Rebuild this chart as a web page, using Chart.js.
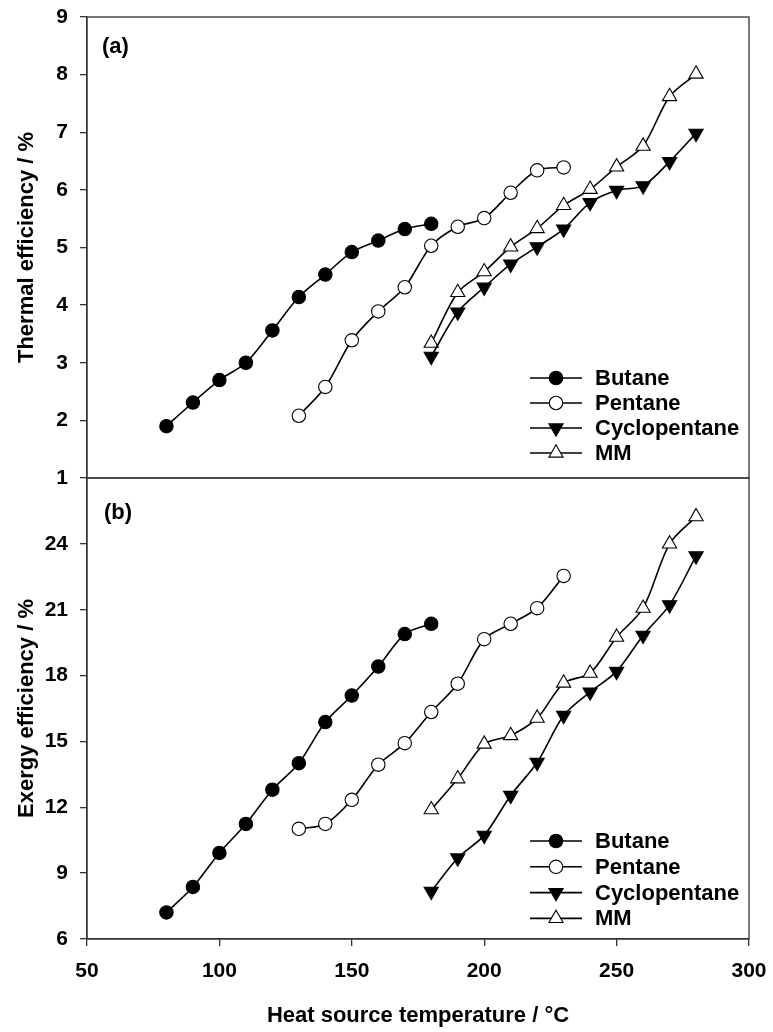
<!DOCTYPE html>
<html><head><meta charset="utf-8">
<script src="https://cdn.jsdelivr.net/npm/chart.js@4.4.1/dist/chart.umd.min.js"></script>
<style>
html,body{margin:0;padding:0;background:#fff;}
body{width:773px;height:1032px;position:relative;overflow:hidden;}
#c1{position:absolute;left:0;top:0;}
#c2{position:absolute;left:0;top:460px;}
</style></head><body>
<canvas id="c1" width="773" height="500"></canvas>
<canvas id="c2" width="773" height="572"></canvas>
<script>
// ---- data ----
const seriesNames = ['Butane', 'Pentane', 'Cyclopentane', 'MM'];
const butaneTemp = [80, 90, 100, 110, 120, 130, 140, 150, 160, 170, 180];
const pentaneTemp = [130, 140, 150, 160, 170, 180, 190, 200, 210, 220, 230];
const cycloTemp = [180, 190, 200, 210, 220, 230, 240, 250, 260, 270, 280];
const mmTemp = [180, 190, 200, 210, 220, 230, 240, 250, 260, 270, 280];

const butaneThermal = [1.90, 2.31, 2.70, 3.00, 3.56, 4.14, 4.53, 4.92, 5.12, 5.32, 5.41];
const pentaneThermal = [2.08, 2.58, 3.39, 3.89, 4.31, 5.03, 5.36, 5.51, 5.95, 6.34, 6.39];
const cycloThermal = [3.11, 3.88, 4.31, 4.71, 5.01, 5.32, 5.78, 5.99, 6.07, 6.49, 6.98];
const mmThermal = [3.34, 4.22, 4.58, 5.01, 5.33, 5.73, 6.01, 6.40, 6.76, 7.62, 8.01];

const butaneExergy = [7.21, 8.37, 9.92, 11.24, 12.80, 14.01, 15.88, 17.09, 18.41, 19.89, 20.36];
const pentaneExergy = [11.02, 11.24, 12.34, 13.94, 14.92, 16.34, 17.63, 19.66, 20.36, 21.07, 22.54];
const cycloExergy = [8.17, 9.69, 10.72, 12.54, 14.04, 16.18, 17.25, 18.19, 19.83, 21.22, 23.45];
const mmExergy = [11.89, 13.30, 14.88, 15.27, 16.06, 17.66, 18.11, 19.75, 21.07, 24.00, 25.24];

const xTicks = [50, 100, 150, 200, 250, 300];
const thermalTicks = [1, 2, 3, 4, 5, 6, 7, 8, 9];
const exergyTicks = [6, 9, 12, 15, 18, 21, 24];

const xTitle = 'Heat source temperature / °C';
const thermalTitle = 'Thermal efficiency / %';
const exergyTitle = 'Exergy efficiency / %';

// ---- styles ----
const FONT = "'Liberation Sans', Arial, sans-serif";
const AXIS = '#333';
const styles = [
  {pointStyle: 'circle', radius: 6.7, fill: '#000', rotation: 0},
  {pointStyle: 'circle', radius: 6.7, fill: '#fff', rotation: 0},
  {pointStyle: 'triangle', radius: 8.2, fill: '#000', rotation: 180},
  {pointStyle: 'triangle', radius: 8.2, fill: '#fff', rotation: 0}
];

function pts(xs, ys) { return xs.map((x, i) => ({x: x, y: ys[i]})); }

function makeDatasets(vals) {
  const temps = [butaneTemp, pentaneTemp, cycloTemp, mmTemp];
  return seriesNames.map((n, i) => ({
    label: n,
    data: pts(temps[i], vals[i]),
    borderColor: '#000',
    borderWidth: 1.6,
    tension: 0.3,
    pointStyle: styles[i].pointStyle,
    pointRadius: styles[i].radius,
    pointRotation: styles[i].rotation,
    pointBackgroundColor: styles[i].fill,
    pointBorderColor: '#000',
    pointBorderWidth: 1.1,
    fill: false
  }));
}

function drawMarker(ctx, st, x, y) {
  ctx.beginPath();
  if (st.pointStyle === 'circle') {
    ctx.arc(x, y, st.radius, 0, Math.PI * 2);
  } else {
    let rad = st.rotation * Math.PI / 180;
    for (let k = 0; k < 3; k++) {
      const px = x + Math.sin(rad) * st.radius, py = y - Math.cos(rad) * st.radius;
      if (k === 0) ctx.moveTo(px, py); else ctx.lineTo(px, py);
      rad += 2 * Math.PI / 3;
    }
    ctx.closePath();
  }
  ctx.fillStyle = st.fill;
  ctx.fill();
  ctx.lineWidth = 1.1;
  ctx.strokeStyle = '#000';
  ctx.stroke();
}

const decoPlugin = {
  id: 'deco',
  beforeDatasetsDraw(chart) {
    const {ctx, chartArea: a} = chart;
    ctx.save();
    ctx.strokeStyle = AXIS;
    ctx.lineWidth = 1.3;
    ctx.strokeRect(a.left, a.top, a.right - a.left, a.bottom - a.top);
    ctx.restore();
  },
  afterDatasetsDraw(chart, args, opts) {
    const {ctx} = chart;
    ctx.save();
    ctx.font = 'bold 22px ' + FONT;
    ctx.fillStyle = '#000';
    ctx.textBaseline = 'middle';
    ctx.textAlign = 'left';
    ctx.fillText(opts.label, opts.lx, opts.ly);
    seriesNames.forEach((n, i) => {
      const y = opts.legY + i * opts.gap;
      ctx.beginPath();
      ctx.moveTo(opts.legX, y);
      ctx.lineTo(opts.legX + 52, y);
      ctx.lineWidth = 1.6;
      ctx.strokeStyle = '#000';
      ctx.stroke();
      drawMarker(ctx, styles[i], opts.legX + 26, y);
      ctx.fillStyle = '#000';
      ctx.fillText(n, opts.legX + 65, y + 1);
    });
    ctx.restore();
  }
};

function yScale(ticks, title, maxVal) {
  return {
    type: 'linear',
    min: ticks[0],
    max: maxVal,
    afterBuildTicks: s => { s.ticks = ticks.map(v => ({value: v})); },
    afterFit: s => { s.width = 87; s.paddingTop = 0; s.paddingBottom = 0; },
    grid: {drawOnChartArea: false, drawTicks: true, tickLength: 7, color: AXIS, lineWidth: 1.3},
    border: {display: true, color: AXIS, width: 1.3},
    ticks: {font: {family: FONT, size: 21, weight: 'bold'}, color: '#000', padding: 12},
    title: {display: true, text: title, font: {family: FONT, size: 22, weight: 'bold'}, color: '#000', padding: {top: 14, bottom: 0}}
  };
}

Chart.defaults.animation = false;

new Chart(document.getElementById('c1'), {
  type: 'line',
  data: {datasets: makeDatasets([butaneThermal, pentaneThermal, cycloThermal, mmThermal])},
  options: {
    responsive: false, animation: false,
    layout: {padding: {left: 0, right: 24, top: 17, bottom: 22}},
    plugins: {legend: {display: false}, tooltip: {enabled: false},
      deco: {label: '(a)', lx: 102, ly: 47, legX: 530, legY: 378, gap: 25}},
    scales: {
      x: {type: 'linear', min: 50, max: 300, display: false},
      y: yScale(thermalTicks, thermalTitle, 9)
    }
  },
  plugins: [decoPlugin]
});

new Chart(document.getElementById('c2'), {
  type: 'line',
  data: {datasets: makeDatasets([butaneExergy, pentaneExergy, cycloExergy, mmExergy])},
  options: {
    responsive: false, animation: false,
    layout: {padding: {left: 0, right: 24, top: 18, bottom: 0}},
    plugins: {legend: {display: false}, tooltip: {enabled: false},
      deco: {label: '(b)', lx: 104, ly: 513 - 460, legX: 530, legY: 841 - 460, gap: 25.8}},
    scales: {
      x: {
        type: 'linear', min: 50, max: 300,
        afterBuildTicks: s => { s.ticks = xTicks.map(v => ({value: v})); },
        afterFit: s => { s.height = 93; s.paddingLeft = 0; s.paddingRight = 0; },
        grid: {drawOnChartArea: false, drawTicks: true, tickLength: 7, color: AXIS, lineWidth: 1.3},
        border: {display: true, color: AXIS, width: 1.3},
        ticks: {font: {family: FONT, size: 21, weight: 'bold'}, color: '#000', padding: 13, maxRotation: 0},
        title: {display: true, text: xTitle, font: {family: FONT, size: 22, weight: 'bold'}, color: '#000', padding: {top: 0, bottom: 3}}
      },
      y: yScale(exergyTicks, exergyTitle, 27)
    }
  },
  plugins: [decoPlugin]
});
</script>
</body></html>
